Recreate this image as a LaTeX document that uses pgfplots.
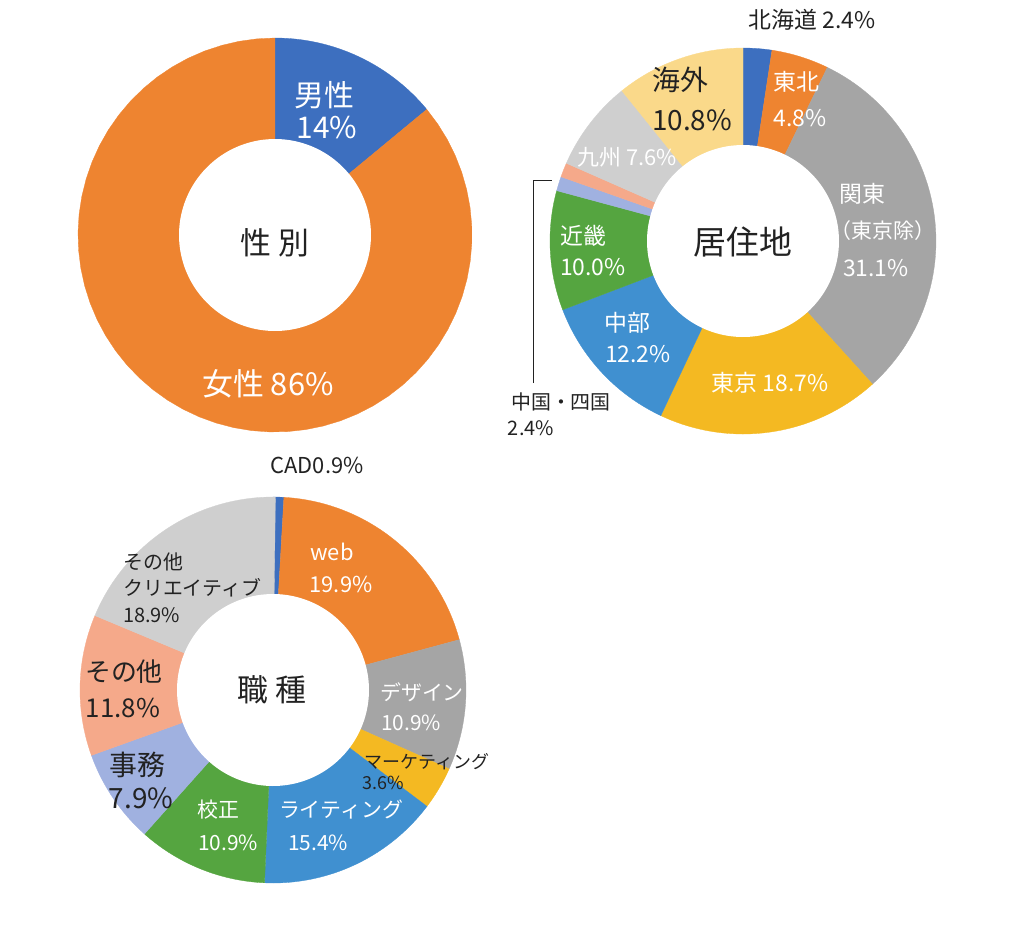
\documentclass[border=0pt]{standalone}
\usepackage{pgfplots}
\pgfplotsset{compat=1.18}
\usepackage{fontspec}
\setmainfont{Noto Sans CJK JP}
\definecolor{cBlue}{HTML}{3D6FBF}
\definecolor{cOrange}{HTML}{EE8430}
\definecolor{cGray}{HTML}{A5A5A5}
\definecolor{cGold}{HTML}{F4B922}
\definecolor{cBlueB}{HTML}{4090D0}
\definecolor{cGreen}{HTML}{55A540}
\definecolor{cLav}{HTML}{A0B1E0}
\definecolor{cSalmon}{HTML}{F5A98A}
\definecolor{cLGray}{HTML}{CFCFCF}
\definecolor{cLGold}{HTML}{FAD98A}
\definecolor{cText}{HTML}{222222}
\newcommand\cum{0}
\newcommand\resetcum{\gdef\cum{0}}
% #1 cx, #2 cy, #3 outer radius, #4 value (percent), #5 colour
\newcommand{\seg}[5]{%
  \pgfmathsetmacro\sA{-90+3.6*\cum}%
  \pgfmathsetmacro\sB{-90+3.6*(\cum+#4)}%
  \pgfmathsetmacro\cumnew{\cum+#4}%
  \xdef\cum{\cumnew}%
  \edef\temp{\noexpand\addplot[fill=#5, draw=#5, line width=0.3pt, domain=\sA:\sB, samples=60, variable=\noexpand\t] ({#1+#3*cos(\noexpand\t)},{#2+#3*sin(\noexpand\t)}) -- (axis cs:#1,#2) -- cycle;}%
  \temp
}
\newcommand{\hole}[3]{%
  \addplot[fill=white, draw=none, domain=0:360, samples=160] ({#1+#3*cos(x)},{#2+#3*sin(x)}) -- cycle;
}
\newcommand{\lab}[5]{\node[font=\fontsize{#3}{#3}\selectfont, text=#4, inner sep=0pt] at (axis cs:#1,#2) {#5};}
\begin{document}
\begin{tikzpicture}
\useasboundingbox (0,0) rectangle (1024bp,935bp);
\begin{axis}[at={(0,0)}, anchor=south west, x=1bp, y=1bp, y dir=reverse,
  xmin=0, xmax=1024, ymin=0, ymax=935, hide axis, clip=false, scale only axis]
% ---- 性別
\resetcum
\seg{275}{235}{197}{14}{cBlue}
\seg{275}{235}{197}{86}{cOrange}
\hole{275}{235}{96}
% ---- 居住地
\resetcum
\seg{743}{241}{193}{2.4}{cBlue}
\seg{743}{241}{193}{4.8}{cOrange}
\seg{743}{241}{193}{31.1}{cGray}
\seg{743}{241}{193}{18.7}{cGold}
\seg{743}{241}{193}{12.2}{cBlueB}
\seg{743}{241}{193}{10.0}{cGreen}
\seg{743}{241}{193}{1.2}{cLav}
\seg{743}{241}{193}{1.2}{cSalmon}
\seg{743}{241}{193}{7.6}{cLGray}
\seg{743}{241}{193}{10.8}{cLGold}
\hole{743}{241}{96}
% ---- 職種
\resetcum
\seg{273}{690}{193}{0.9}{cBlue}
\seg{273}{690}{193}{19.9}{cOrange}
\seg{273}{690}{193}{10.9}{cGray}
\seg{273}{690}{193}{3.6}{cGold}
\seg{273}{690}{193}{15.4}{cBlueB}
\seg{273}{690}{193}{10.9}{cGreen}
\seg{273}{690}{193}{7.9}{cLav}
\seg{273}{690}{193}{11.8}{cSalmon}
\seg{273}{690}{193}{18.9}{cLGray}
\hole{273}{690}{96}
% leader line
\addplot[cText, line width=0.8pt] coordinates {(533,383) (533,180) (552,180)};
% ---- labels chart 1
\lab{324}{95}{30}{white}{男性}
\lab{327}{128}{30}{white}{14\%}
\lab{275}{243}{31}{cText}{性 別}
\lab{268}{384}{31}{white}{女性 86\%}
% ---- labels chart 2
\lab{812}{20}{23}{cText}{北海道 2.4\%}
\lab{680}{80}{28}{cText}{海外}
\lab{692}{120}{28}{cText}{10.8\%}
\lab{796}{82}{23}{white}{東北}
\lab{800}{118}{23}{white}{4.8\%}
\lab{627}{157}{22}{white}{九州 7.6\%}
\lab{862}{194}{23}{white}{関東}
\lab{883}{231}{21}{white}{（東京除）}
\lab{876}{268}{23}{white}{31.1\%}
\lab{743}{242}{33}{cText}{居住地}
\lab{583}{236}{23}{white}{近畿}
\lab{593}{267}{23}{white}{10.0\%}
\lab{627}{323}{23}{white}{中部}
\lab{638}{354}{23}{white}{12.2\%}
\lab{770}{383}{23}{white}{東京 18.7\%}
\lab{561}{402}{20}{cText}{中国・四国}
\lab{531}{428}{20}{cText}{2.4\%}
% ---- labels chart 3
\lab{317}{465}{22}{cText}{CAD0.9\%}
\lab{332}{552}{22}{white}{web}
\lab{341}{584}{22}{white}{19.9\%}
\lab{422}{692}{21}{white}{デザイン}
\lab{411}{723}{21}{white}{10.9\%}
\lab{427}{762}{18}{cText}{マーケティング}
\lab{383}{783}{18}{cText}{3.6\%}
\lab{341}{810}{21}{white}{ライティング}
\lab{318}{843}{21}{white}{15.4\%}
\lab{218}{810}{21}{white}{校正}
\lab{228}{843}{21}{white}{10.9\%}
\lab{137}{765}{28}{cText}{事務}
\lab{141}{798}{28}{cText}{7.9\%}
\lab{124}{672}{26}{cText}{その他}
\lab{123}{708}{26}{cText}{11.8\%}
\node[font=\fontsize{20}{20}\selectfont, text=cText, inner sep=0pt, anchor=west] at (axis cs:123,562) {その他};
\node[font=\fontsize{20}{20}\selectfont, text=cText, inner sep=0pt, anchor=west] at (axis cs:123,588) {クリエイティブ};
\node[font=\fontsize{20}{20}\selectfont, text=cText, inner sep=0pt, anchor=west] at (axis cs:123,615) {18.9\%};
\lab{272}{690}{31}{cText}{職 種}
\end{axis}
\end{tikzpicture}
\end{document}
